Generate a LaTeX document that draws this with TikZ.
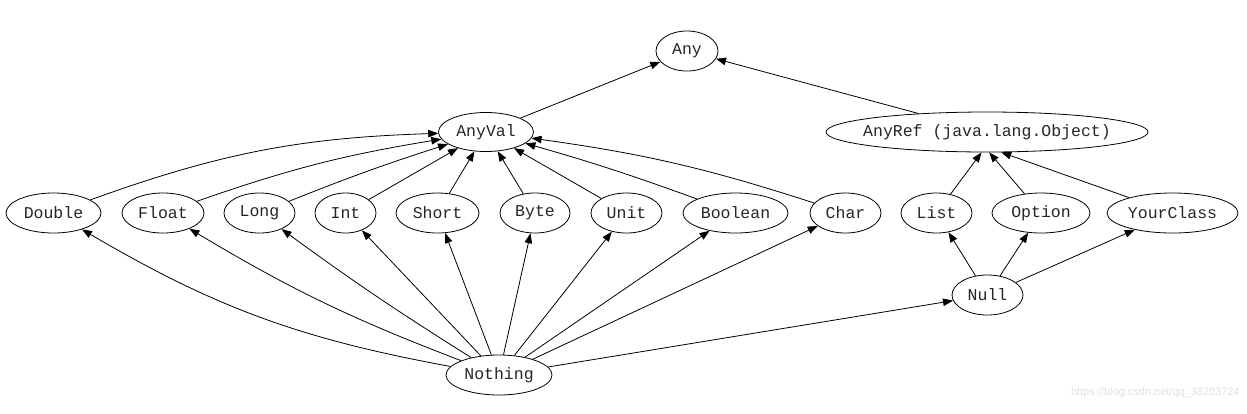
\documentclass[tikz,border=0pt]{standalone}
\usepackage{fontspec}
\setmonofont{Liberation Mono}
\newfontfamily\wmfont{Liberation Sans}
\usetikzlibrary{shapes.geometric,arrows.meta}
\begin{document}
\begin{tikzpicture}[x=1pt,y=-1pt,
  nd/.style={ellipse,draw,line width=0.8pt,inner sep=0pt,minimum height=40pt,
    font=\ttfamily\fontsize{16.5}{17}\selectfont,text=black!85},
  ed/.style={-{Triangle[length=10pt,width=7.5pt]},line width=0.8pt}]
\useasboundingbox (0,0) rectangle (1247,413);

% top
\node[nd,minimum width=62pt] (Any) at (687,51) {Any};
\node[nd,minimum width=95pt,minimum height=39pt] (AnyVal) at (486,132) {AnyVal};
\node[nd,minimum width=322pt] (AnyRef) at (987,132) {\makebox[200pt][c]{AnyRef (java.lang.Object)}};

% middle row
\node[nd,minimum width=95pt]  (Double)    at (53.5,213)  {Double};
\node[nd,minimum width=82pt]  (Float)     at (163,213)   {Float};
\node[nd,minimum width=71pt]  (Long)      at (259.5,213) {Long};
\node[nd,minimum width=61pt]  (Int)       at (345.5,213) {Int};
\node[nd,minimum width=83pt]  (Short)     at (437.5,213) {Short};
\node[nd,minimum width=70pt]  (Byte)      at (535,213)   {Byte};
\node[nd,minimum width=71pt]  (Unit)      at (626.5,213) {Unit};
\node[nd,minimum width=105pt] (Boolean)   at (735.5,213) {Boolean};
\node[nd,minimum width=71pt]  (Char)      at (845.5,213) {Char};
\node[nd,minimum width=71pt]  (List)      at (936.5,213) {List};
\node[nd,minimum width=98pt]  (Option)    at (1041,213)  {Option};
\node[nd,minimum width=131pt] (YourClass) at (1172.5,213) {YourClass};

% bottom
\node[nd,minimum width=71pt]  (Null)    at (987.5,295) {Null};
\node[nd,minimum width=106pt] (Nothing) at (499,375)   {Nothing};

% watermark
\node[anchor=east,inner sep=0pt,text=black!12,font=\wmfont\fontsize{11}{12}\selectfont] (wm) at (1240,393) {https://blog.csdn.net/qq\_38203724};

% edges to Any
\draw[ed] (AnyVal) -- (Any);
\draw[ed] (AnyRef) -- (Any);

% edges to AnyVal
\draw[ed] (Double)  to[bend left=9] (AnyVal);
\draw[ed] (Float)   to[bend left=5] (AnyVal);
\draw[ed] (Long)    to[bend left=2] (AnyVal);
\draw[ed] (Int)     -- (AnyVal);
\draw[ed] (Short)   -- (AnyVal);
\draw[ed] (Byte)    -- (AnyVal);
\draw[ed] (Unit)    -- (AnyVal);
\draw[ed] (Boolean) to[bend right=2] (AnyVal);
\draw[ed] (Char)    to[bend right=5] (AnyVal);

% edges to AnyRef
\draw[ed] (List)      -- (AnyRef.-105);
\draw[ed] (Option)    -- (AnyRef.-84);
\draw[ed] (YourClass) -- (AnyRef.-55);

% Null edges
\draw[ed] (Null) -- (List);
\draw[ed] (Null) -- (Option);
\draw[ed] (Null) -- (YourClass);

% Nothing edges
\draw[ed] (Nothing) to[bend left=10] (Double);
\draw[ed] (Nothing) to[bend left=5] (Float);
\draw[ed] (Nothing) to[bend left=2] (Long);
\draw[ed] (Nothing) -- (Int);
\draw[ed] (Nothing) -- (Short);
\draw[ed] (Nothing) -- (Byte);
\draw[ed] (Nothing) -- (Unit);
\draw[ed] (Nothing) -- (Boolean);
\draw[ed] (Nothing) -- (Char);
\draw[ed] (Nothing) -- (Null);
\end{tikzpicture}
\end{document}
